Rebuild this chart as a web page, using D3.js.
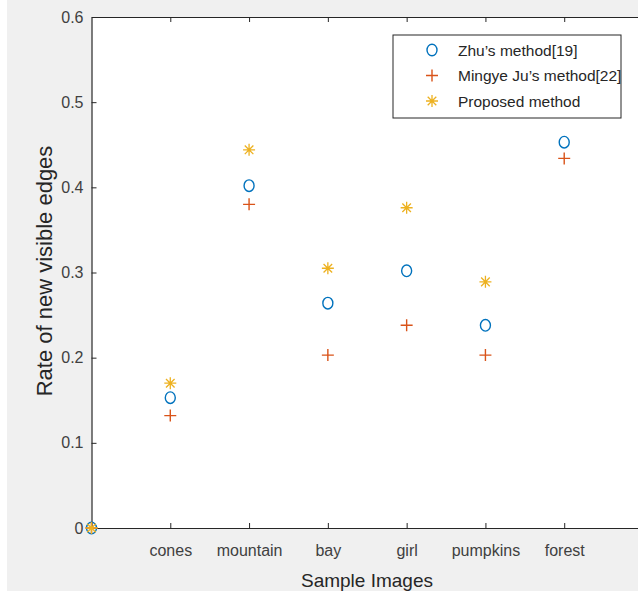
<!DOCTYPE html>
<html>
<head>
<meta charset="utf-8">
<script src="https://cdn.jsdelivr.net/npm/d3@7"></script>
<style>
  body { margin: 0; background: #ffffff; }
  svg text { font-family: "Liberation Sans", Arial, sans-serif; }
</style>
</head>
<body>
<div id="chart"></div>
<script>
// sample images (index 0 is the origin point)
const categories = ["", "cones", "mountain", "bay", "girl", "pumpkins", "forest"];
const zhu = [0, 0.153, 0.402, 0.264, 0.302, 0.238, 0.453];
const mingye = [0, 0.132, 0.380, 0.203, 0.238, 0.203, 0.434];
const proposed = [0, 0.170, 0.444, 0.305, 0.376, 0.289, null];
const yTicks = [0, 0.1, 0.2, 0.3, 0.4, 0.5, 0.6];

const seriesList = [
    { name: "Zhu\u2019s method[19]", values: zhu, color: "#0072BD", marker: "circle" },
    { name: "Mingye Ju\u2019s method[22]", values: mingye, color: "#D95319", marker: "plus" },
    { name: "Proposed method", values: proposed, color: "#EDB120", marker: "star" }
];

const W = 638, H = 591;
const margin = { top: 17, right: -5, bottom: 63, left: 91.5 };
const width = W - margin.left - margin.right;
const height = H - margin.top - margin.bottom;

const svg = d3.select("#chart").append("svg")
    .attr("width", W)
    .attr("height", H);

// figure background
svg.append("rect").attr("x", 7).attr("y", 0).attr("width", W - 7).attr("height", H).attr("fill", "#f0f0f0");

const g = svg.append("g").attr("transform", `translate(${margin.left},${margin.top})`);

const x = d3.scaleLinear().domain([0, 7]).range([0, width]);
const y = d3.scaleLinear().domain([0, 0.6]).range([height, 0]);

g.append("rect").attr("width", width).attr("height", height).attr("fill", "#ffffff");

const axisColor = "#262626";
const tickIdx = d3.range(1, categories.length);

// bottom axis (ticks inward)
const xAxis = g.append("g").attr("transform", `translate(0,${height})`)
    .call(d3.axisBottom(x).tickValues(tickIdx).tickFormat(i => categories[i]).tickSizeInner(-5).tickSizeOuter(0).tickPadding(17));
// top axis ticks (box)
const xTop = g.append("g")
    .call(d3.axisTop(x).tickValues(tickIdx).tickFormat("").tickSizeInner(-5).tickSizeOuter(0));
// left axis
const yAxis = g.append("g")
    .call(d3.axisLeft(y).tickValues(yTicks).tickFormat(d => d === 0 ? "0" : d3.format(".1f")(d)).tickSizeInner(-5).tickSizeOuter(0).tickPadding(8));

[xAxis, xTop, yAxis].forEach(a => {
    a.select(".domain").attr("stroke", axisColor).attr("stroke-width", 1.2);
    a.selectAll(".tick line").attr("stroke", axisColor);
    a.selectAll(".tick text").attr("fill", "#404040").style("font-size", "16px");
});

// markers
function drawMarker(sel, type, color) {
    if (type === "circle") {
        sel.append("ellipse").attr("rx", 5).attr("ry", 5.8)
            .attr("fill", "none").attr("stroke", color).attr("stroke-width", 1.4);
    } else if (type === "plus") {
        sel.append("path").attr("d", "M-6,0H6M0,-6V6")
            .attr("stroke", color).attr("stroke-width", 1.4).attr("fill", "none");
    } else {
        sel.append("path").attr("d", "M-6,0H6M0,-6V6M-4.3,-4.3L4.3,4.3M-4.3,4.3L4.3,-4.3")
            .attr("stroke", color).attr("stroke-width", 1.3).attr("fill", "none");
    }
}

seriesList.forEach(s => {
    const pts = s.values.map((v, i) => ({ i, v })).filter(d => d.v !== null);
    g.selectAll(null).data(pts).enter().append("g")
        .attr("transform", d => `translate(${x(d.i)},${y(d.v)})`)
        .each(function () { drawMarker(d3.select(this), s.marker, s.color); });
});

// axis labels
svg.append("text")
    .attr("transform", `translate(52,271) rotate(-90)`)
    .attr("text-anchor", "middle")
    .attr("fill", "#262626")
    .style("font-size", "22px")
    .text("Rate of new visible edges");

svg.append("text")
    .attr("x", 367).attr("y", 587)
    .attr("text-anchor", "middle")
    .attr("fill", "#262626")
    .style("font-size", "19px")
    .text("Sample Images");

// legend
const legend = svg.append("g").attr("transform", "translate(393,35)");
legend.append("rect").attr("width", 228).attr("height", 83)
    .attr("fill", "#ffffff").attr("stroke", axisColor).attr("stroke-width", 1);
seriesList.forEach((s, k) => {
    const row = legend.append("g").attr("transform", `translate(0,${15 + k * 25.5})`);
    drawMarker(row.append("g").attr("transform", "translate(39,0)"), s.marker, s.color);
    row.append("text").attr("x", 65).attr("y", 5.5)
        .attr("fill", "#262626")
        .style("font-size", "15.5px")
        .text(s.name);
});
</script>
</body>
</html>
